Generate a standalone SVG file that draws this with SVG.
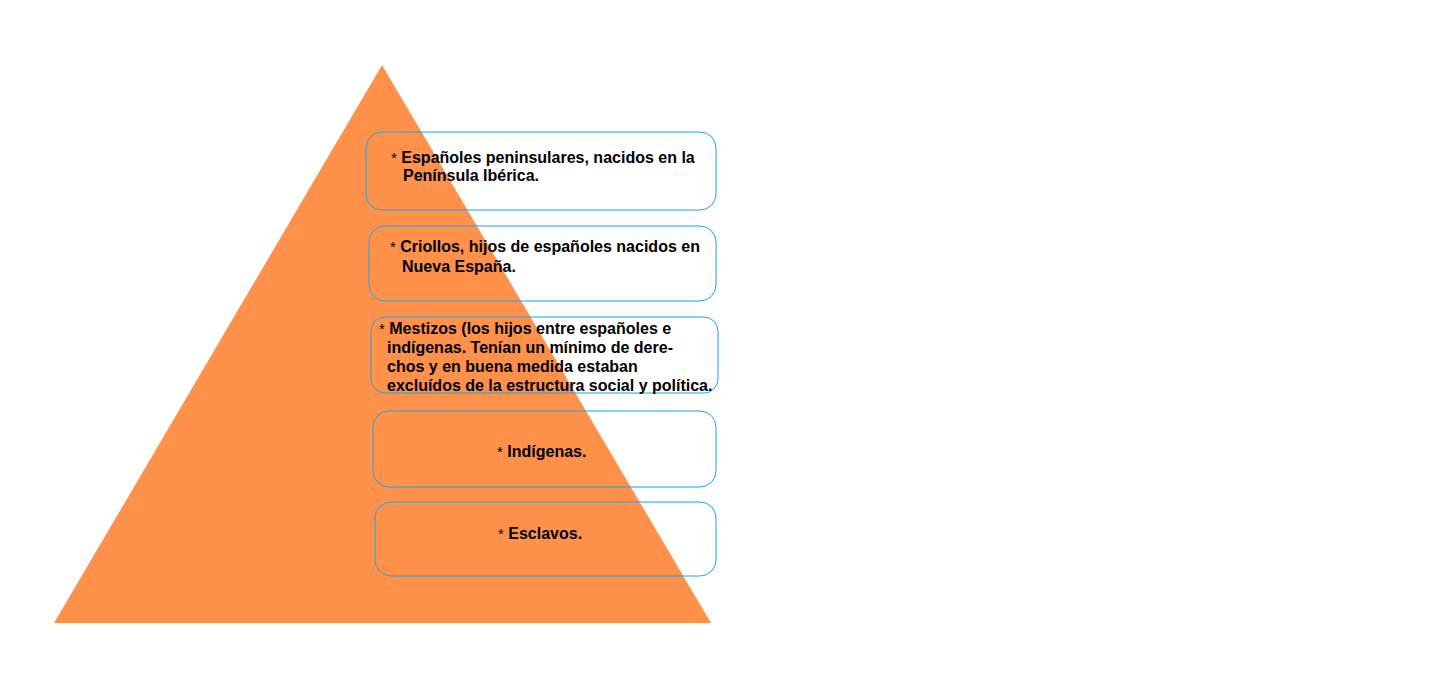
<svg xmlns="http://www.w3.org/2000/svg" width="1433" height="678" viewBox="0 0 1433 678">
<style>
.box{fill:none;stroke:#1aa3e8;stroke-width:1}
.t{font-family:"Liberation Sans",Arial,sans-serif;font-size:16px;font-weight:bold;fill:#000}
.a{font-weight:normal;font-size:15px}
</style>
<rect width="1433" height="678" fill="#fff"/>
<g id="pyramid"><polygon points="382,65 54,623 711,623" fill="#ff914a"/></g>
<g id="connectors"></g>
<g id="n1">
<rect class="box" x="366" y="132" width="350" height="78" rx="16"/>
<text class="t" x="391" y="163"><tspan class="a">*</tspan> Españoles peninsulares, nacidos en la</text>
<text class="t" x="403" y="181">Península Ibérica.</text>
</g>
<g id="n2">
<rect class="box" x="369" y="226" width="347" height="75" rx="16"/>
<text class="t" x="390" y="252"><tspan class="a">*</tspan> Criollos, hijos de españoles nacidos en</text>
<text class="t" x="402" y="272">Nueva España.</text>
</g>
<g id="n3">
<rect class="box" x="371" y="317" width="347" height="76" rx="14"/>
<text class="t" x="379" y="334"><tspan class="a">*</tspan> Mestizos (los hijos entre españoles e</text>
<text class="t" x="387" y="353">indígenas. Tenían un mínimo de dere-</text>
<text class="t" x="387" y="372">chos y en buena medida estaban</text>
<text class="t" x="387" y="391">excluídos de la estructura social y política.</text>
</g>
<g id="n4">
<rect class="box" x="373" y="411" width="343" height="76" rx="16"/>
<text class="t" x="497" y="457"><tspan class="a">*</tspan> Indígenas.</text>
</g>
<g id="n5">
<rect class="box" x="375" y="502" width="341" height="74" rx="16"/>
<text class="t" x="498" y="539"><tspan class="a">*</tspan> Esclavos.</text>
</g>
</svg>
